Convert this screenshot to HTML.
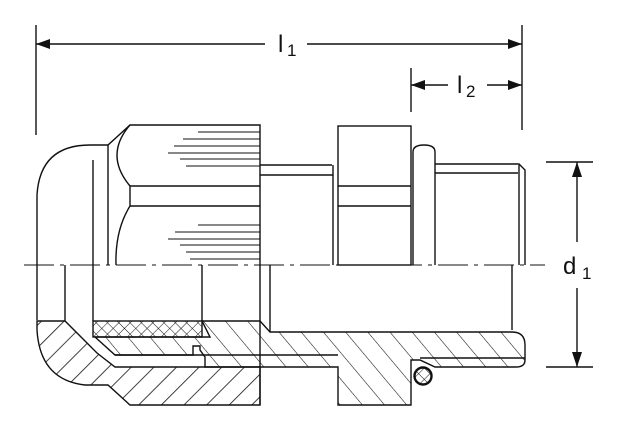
<!DOCTYPE html>
<html><head><meta charset="utf-8"><style>
html,body{margin:0;padding:0;background:#fff;width:627px;height:436px;overflow:hidden}
svg{display:block}
text{font-family:"Liberation Sans",sans-serif;fill:#111}
</style></head><body>
<svg width="627" height="436" viewBox="0 0 627 436" xmlns="http://www.w3.org/2000/svg">
<defs>
<pattern id="hf" width="16" height="16" patternUnits="userSpaceOnUse" patternTransform="rotate(45)">
<line x1="0" y1="0" x2="0" y2="16" stroke="#111" stroke-width="1.6"/></pattern>
<pattern id="hb" width="17" height="17" patternUnits="userSpaceOnUse" patternTransform="rotate(-40)">
<line x1="0" y1="0" x2="0" y2="17" stroke="#111" stroke-width="1.1"/></pattern>
<pattern id="hx" width="8" height="8" patternUnits="userSpaceOnUse" patternTransform="rotate(45)">
<line x1="0" y1="0" x2="0" y2="8" stroke="#111" stroke-width="1"/><line x1="0" y1="0" x2="8" y2="0" stroke="#111" stroke-width="1"/></pattern>
</defs>
<g stroke="#111" stroke-width="1.4" fill="none">
<line x1="36" y1="25" x2="36" y2="135"/>
<line x1="522" y1="25" x2="522" y2="130"/>
<line x1="36" y1="44" x2="265" y2="44"/>
<line x1="307" y1="44" x2="522" y2="44"/>
<line x1="411" y1="68" x2="411" y2="112"/>
<line x1="411" y1="85" x2="448" y2="85"/>
<line x1="487" y1="85" x2="522" y2="85"/>
<line x1="546" y1="162" x2="593" y2="162"/>
<line x1="546" y1="367" x2="593" y2="367"/>
<line x1="577" y1="162" x2="577" y2="242"/>
<line x1="577" y1="288" x2="577" y2="367"/>
<line x1="24" y1="265" x2="545" y2="265" stroke-width="1.1" stroke-dasharray="30,6,4,6"/>
<path d="M37 320 V195 Q40 145 90 145 H108 L130 125 H260 V405"/>
<line x1="108" y1="145" x2="108" y2="265"/>
<line x1="93" y1="160" x2="93" y2="321"/>
<path d="M130 125 Q104 155 130 186 V206 Q115 230 116 265"/>
<line x1="130" y1="186" x2="260" y2="186"/>
<line x1="130" y1="206" x2="260" y2="206"/>
<g stroke-width="1">
<line x1="198" y1="132" x2="260" y2="132"/><line x1="183" y1="139" x2="260" y2="139"/>
<line x1="174" y1="146" x2="260" y2="146"/><line x1="168" y1="153" x2="260" y2="153"/>
<line x1="180" y1="159" x2="260" y2="159"/><line x1="186" y1="166" x2="260" y2="166"/>
<line x1="198" y1="225" x2="260" y2="225"/><line x1="175" y1="232" x2="260" y2="232"/>
<line x1="168" y1="239" x2="260" y2="239"/><line x1="180" y1="245" x2="260" y2="245"/>
<line x1="186" y1="252" x2="260" y2="252"/><line x1="190" y1="259" x2="260" y2="259"/>
</g>
<line x1="260" y1="165" x2="332" y2="165"/>
<line x1="260" y1="175" x2="333" y2="175"/>
<line x1="333" y1="165" x2="333" y2="265"/>
<line x1="270" y1="265" x2="270" y2="332"/>
<line x1="65" y1="265" x2="65" y2="321"/>
<line x1="202" y1="265" x2="202" y2="321"/>
<rect x="338" y="126" width="73" height="139"/>
<line x1="338" y1="186" x2="411" y2="186"/>
<line x1="338" y1="206" x2="411" y2="206"/>
<path d="M413 265 V152 Q413 145 424 145 Q435 145 435 152 V265"/>
<path d="M435 164 H519 L525 170 V265"/>
<line x1="435" y1="173" x2="518" y2="173"/>
<line x1="519" y1="165" x2="519" y2="265"/>
<line x1="512" y1="265" x2="512" y2="330"/>
<path d="M37 321 H65 L97 353 L115 367 H260 V405 H130 L108 385 H85 Q40 380 37 330 Z" fill="url(#hf)"/>
<rect x="93" y="321" width="109" height="16" fill="url(#hx)"/>
<path d="M95 337 H210 L202 321 H260 L270 332 H512 Q525 332 525 345 V360 Q525 367 516 367 H435 L420 360 H411 V405 H338 V367 H205 V357 L200 350 V346 H193 V355 H115 Z" fill="url(#hb)"/>
<line x1="115" y1="355" x2="338" y2="355"/>
<line x1="420" y1="358" x2="525" y2="358"/>
<circle cx="423" cy="376" r="9" fill="#fff"/>
<circle cx="423" cy="376" r="8" fill="url(#hx)"/>
</g>
<g fill="#111">
<path d="M36 44 L50 39 L50 49 Z"/>
<path d="M522 44 L508 39 L508 49 Z"/>
<path d="M411 85 L425 80 L425 90 Z"/>
<path d="M522 85 L508 80 L508 90 Z"/>
<path d="M577 162 L572 177 L582 177 Z"/>
<path d="M577 367 L572 352 L582 352 Z"/>
</g>
<text x="278" y="52" font-size="24">l</text><text x="287" y="56" font-size="17">1</text>
<text x="457" y="93" font-size="24">l</text><text x="466" y="97" font-size="17">2</text>
<text x="563" y="274" font-size="24">d</text><text x="582" y="279" font-size="17">1</text>
</svg>
</body></html>
